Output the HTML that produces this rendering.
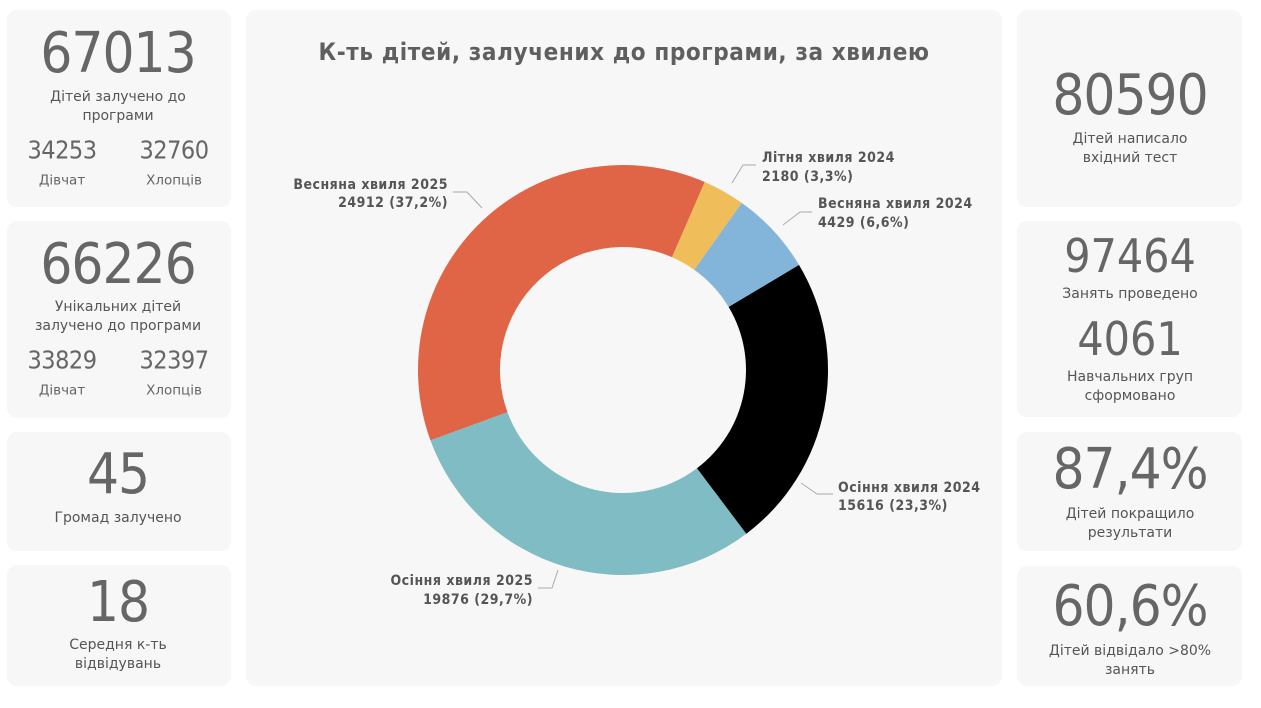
<!DOCTYPE html>
<html><head><meta charset="utf-8"><style>
html,body{margin:0;padding:0;background:#fff;width:1261px;height:708px;overflow:hidden}
body{position:relative;font-family:"DejaVu Sans Condensed","DejaVu Sans","Liberation Sans",sans-serif;color:#666}
.c{position:absolute;background:#f7f7f7;border-radius:10px}
.t{position:absolute;transform:translate(-50%,-50%);white-space:nowrap;line-height:1;text-align:center}
.b{font-size:56px;letter-spacing:-1px;color:#666}
.m{font-size:25px;letter-spacing:-0.5px;color:#666}
.l{font-family:"DejaVu Sans",sans-serif;font-size:14px;color:#555}
.s{font-family:"DejaVu Sans",sans-serif;font-size:13.5px;color:#666}
</style></head><body>
<div class="c" style="left:7px;top:10px;width:224px;height:197px"></div>
<div class="c" style="left:7px;top:221px;width:224px;height:197px"></div>
<div class="c" style="left:7px;top:432px;width:224px;height:119px"></div>
<div class="c" style="left:7px;top:565px;width:224px;height:121px"></div>
<div class="c" style="left:246px;top:10px;width:756px;height:676px"></div>
<div class="c" style="left:1017px;top:10px;width:225px;height:197px"></div>
<div class="c" style="left:1017px;top:221px;width:225px;height:196px"></div>
<div class="c" style="left:1017px;top:432px;width:225px;height:119px"></div>
<div class="c" style="left:1017px;top:566px;width:225px;height:120px"></div>

<div class="t b" style="left:118px;top:54px">67013</div>
<div class="t l" style="left:118px;top:97px">Дітей залучено до</div>
<div class="t l" style="left:118px;top:116px">програми</div>
<div class="t m" style="left:62px;top:150px">34253</div>
<div class="t m" style="left:174px;top:150px">32760</div>
<div class="t s" style="left:62px;top:181px">Дівчат</div>
<div class="t s" style="left:174px;top:181px">Хлопців</div>

<div class="t b" style="left:118px;top:265px">66226</div>
<div class="t l" style="left:118px;top:307px">Унікальних дітей</div>
<div class="t l" style="left:118px;top:326px">залучено до програми</div>
<div class="t m" style="left:62px;top:360px">33829</div>
<div class="t m" style="left:174px;top:360px">32397</div>
<div class="t s" style="left:62px;top:391px">Дівчат</div>
<div class="t s" style="left:174px;top:391px">Хлопців</div>

<div class="t b" style="left:118px;top:475px">45</div>
<div class="t l" style="left:118px;top:518px">Громад залучено</div>

<div class="t b" style="left:118px;top:603px">18</div>
<div class="t l" style="left:118px;top:645px">Середня к-ть</div>
<div class="t l" style="left:118px;top:664px">відвідувань</div>

<div class="t b" style="left:1130px;top:96px">80590</div>
<div class="t l" style="left:1130px;top:139px">Дітей написало</div>
<div class="t l" style="left:1130px;top:158px">вхідний тест</div>

<div class="t" style="left:1130px;top:256px;font-size:46px;color:#666">97464</div>
<div class="t l" style="left:1130px;top:294px">Занять проведено</div>
<div class="t" style="left:1130px;top:339px;font-size:46px;color:#666">4061</div>
<div class="t l" style="left:1130px;top:377px">Навчальних груп</div>
<div class="t l" style="left:1130px;top:396px">сформовано</div>

<div class="t b" style="left:1130px;top:470px">87,4%</div>
<div class="t l" style="left:1130px;top:514px">Дітей покращило</div>
<div class="t l" style="left:1130px;top:533px">результати</div>

<div class="t b" style="left:1130px;top:607px">60,6%</div>
<div class="t l" style="left:1130px;top:651px">Дітей відвідало &gt;80%</div>
<div class="t l" style="left:1130px;top:670px">занять</div>

<div class="t" style="left:624px;top:52px;font-size:24px;letter-spacing:0.6px;font-weight:bold;color:#5f5f5f">К-ть дітей, залучених до програми, за хвилею</div>

<svg id="d" width="1261" height="708" style="position:absolute;left:0;top:0" xmlns="http://www.w3.org/2000/svg">
<g fill="none" stroke="#aaa" stroke-width="1">
<polyline points="453,192 467,192 482,208"/>
<polyline points="756,165 743,165 732,183"/>
<polyline points="812,212 800,212 783,225"/>
<polyline points="833,494 817,494 801,483"/>
<polyline points="538,588 552,588 558,570"/>
</g>
<g font-family="DejaVu Sans Condensed, DejaVu Sans, sans-serif" font-weight="bold" font-size="14" letter-spacing="0.5" fill="#555">
<text x="448" y="189" text-anchor="end">Весняна хвиля 2025</text>
<text x="448" y="207" text-anchor="end">24912 (37,2%)</text>
<text x="762" y="162">Літня хвиля 2024</text>
<text x="762" y="181">2180 (3,3%)</text>
<text x="818" y="208">Весняна хвиля 2024</text>
<text x="818" y="227">4429 (6,6%)</text>
<text x="838" y="492">Осіння хвиля 2024</text>
<text x="838" y="510">15616 (23,3%)</text>
<text x="533" y="585" text-anchor="end">Осіння хвиля 2025</text>
<text x="533" y="604" text-anchor="end">19876 (29,7%)</text>
</g>
</svg>
<script>
(function(){
var cx=623,cy=370,R=205,r=123,a=23.5;
var d=[[3.3,"#efbe5a"],[6.6,"#83b4d9"],[23.3,"#000000"],[29.7,"#80bcc3"],[37.1,"#e06446"]];
var s=document.getElementById("d"),ns="http://www.w3.org/2000/svg";
function p(ang,rad){var t=ang*Math.PI/180;return [cx+rad*Math.sin(t),cy-rad*Math.cos(t)];}
d.forEach(function(x){
 var sp=x[0]*3.6,b=a+sp,l=sp>180?1:0;
 var p1=p(a,R),p2=p(b,R),p3=p(b,r),p4=p(a,r);
 var e=document.createElementNS(ns,"path");
 e.setAttribute("d","M"+p1+" A"+R+","+R+" 0 "+l+" 1 "+p2+" L"+p3+" A"+r+","+r+" 0 "+l+" 0 "+p4+" Z");
 e.setAttribute("fill",x[1]);s.insertBefore(e,s.firstChild);a=b;
});
})();
</script>
</body></html>
